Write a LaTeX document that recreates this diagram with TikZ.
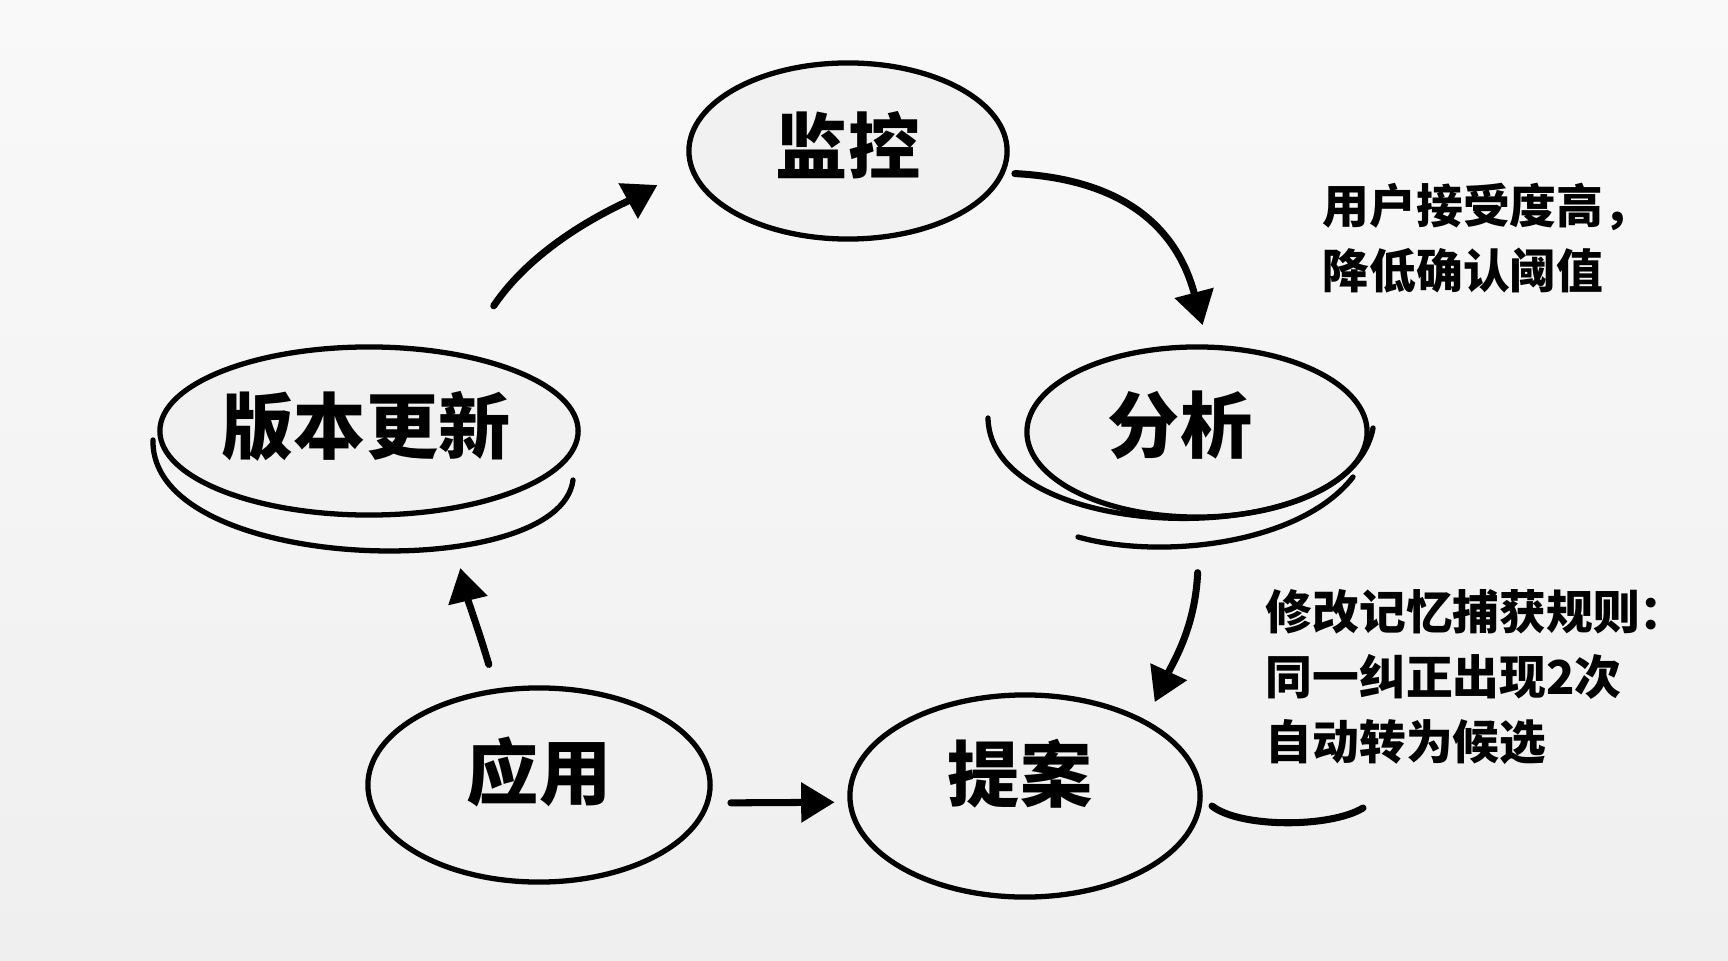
\documentclass[tikz,border=0pt]{standalone}
\usepackage{fontspec}
\newfontfamily\cjk{Noto Sans CJK SC}
\newfontfamily\cjkheavy{Noto Sans CJK SC Black}
\usetikzlibrary{shapes.geometric, arrows.meta}
\definecolor{bgtop}{HTML}{F9F9F9}
\definecolor{bgbot}{HTML}{EFEFEF}
\definecolor{stagefill}{HTML}{F1F1F1}
\tikzset{
  stage/.style={ellipse, draw, line width=1.5pt, fill=stagefill, inner sep=0pt},
  stagetext/.style={font=\cjkheavy\fontsize{20.5pt}{24pt}\selectfont, inner sep=0pt},
  note/.style={font=\cjk\bfseries\fontsize{13.3pt}{18.5pt}\selectfont, align=left, anchor=west, inner sep=0pt},
  arr/.style={-{Triangle[length=9.5pt,width=11pt]}, line width=2pt, line cap=round},
  sketch/.style={line width=1.5pt, line cap=round},
}
\begin{document}
\begin{tikzpicture}[x=0.01cm, y=0.01cm]
\fill[top color=bgtop, bottom color=bgbot] (0,0) rectangle (1728,960);

\node[stage, minimum width=3.18cm, minimum height=1.76cm] (mon) at (848,809) {};
\node[stage, minimum width=3.40cm, minimum height=1.70cm] (ana) at (1197,528) {};
\node[stage, minimum width=4.18cm, minimum height=1.68cm] (ver) at (369,529) {};
\node[stage, minimum width=3.42cm, minimum height=1.94cm] (app) at (539,175) {};
\node[stage, minimum width=3.50cm, minimum height=2.02cm] (pro) at (1025,164) {};

\node[stagetext] (mon-t) at ([yshift=0.06cm]mon.center) {监控};
\node[stagetext] (ana-t) at ([xshift=-0.17cm, yshift=0.07cm]ana.center) {分析};
\node[stagetext] (ver-t) at ([xshift=-0.03cm, yshift=0.05cm]ver.center) {版本更新};
\node[stagetext] (app-t) at ([yshift=0.13cm]app.center) {应用};
\node[stagetext] (pro-t) at ([xshift=-0.05cm, yshift=0.22cm]pro.center) {提案};

\node[note] (n1) at (1322,722) {用户接受度高，\\降低确认阈值};
\node[note] (n2) at (1265,283) {修改记忆捕获规则：\\同一纠正出现2次\\自动转为候选};

\draw[arr, shorten <=0.57cm, shorten >=0.36cm] (ver.40) .. controls +(56:137) and +(208.7:76) .. (mon.186);
\draw[arr, shorten <=0.10cm, shorten >=0.20cm] (mon.352) .. controls +(357:120) and +(104.8:120) .. (ana.83);
\draw[arr, shorten <=0.53cm, shorten >=0.20cm] (ana.272) .. controls +(267.4:108) and +(65.2:65) .. (pro.32);
\draw[arr, shorten <=0.21cm, shorten >=0.13cm] (app.354) -- (pro.182);
\draw[arr, shorten <=0.25cm, shorten >=0.58cm] (app.114.5) .. controls +(106.7:65) and +(283.4:93) .. (ver.314);

\draw[sketch] (153,520) .. controls (150,385) and (560,375) .. (573,480);
\draw[sketch] (988,542) .. controls (990,415) and (1350,405) .. (1373,532);
\draw[sketch] (1078,423) .. controls (1160,400) and (1300,415) .. (1353,483);
\draw[sketch, line width=2pt] (1212,154) .. controls (1240,132) and (1330,132) .. (1363,152);
\end{tikzpicture}
\end{document}
